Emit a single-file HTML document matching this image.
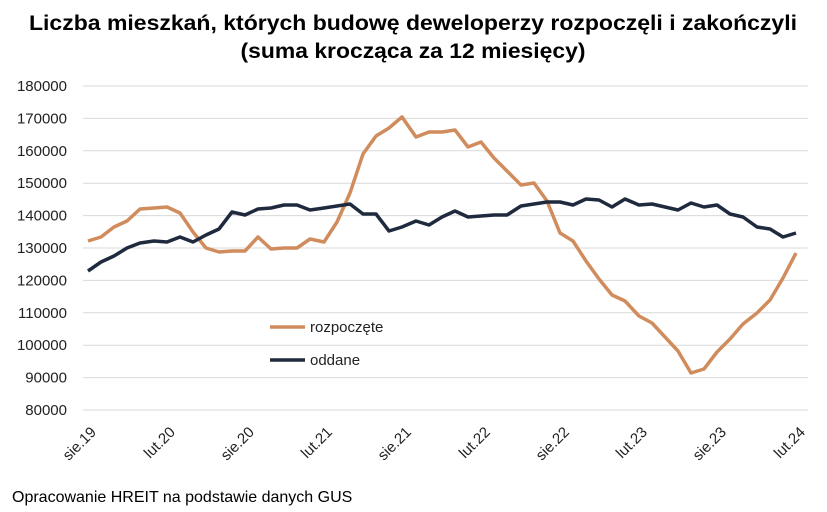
<!DOCTYPE html>
<html><head><meta charset="utf-8"><style>
html,body{margin:0;padding:0;background:#fff;}
svg{display:block;font-family:"Liberation Sans",sans-serif;}
</style></head><body>
<svg width="827" height="512" viewBox="0 0 827 512" xmlns="http://www.w3.org/2000/svg">
<text x="413" y="30" text-anchor="middle" font-size="21" font-weight="bold" fill="#000" textLength="768" lengthAdjust="spacingAndGlyphs">Liczba mieszkań, których budowę deweloperzy rozpoczęli i zakończyli</text>
<text x="413" y="58" text-anchor="middle" font-size="21" font-weight="bold" fill="#000" textLength="345" lengthAdjust="spacingAndGlyphs">(suma krocząca za 12 miesięcy)</text>
<g stroke="#d9d9d9" stroke-width="1">
<line x1="83" x2="808" y1="86" y2="86"/><line x1="83" x2="808" y1="118.4" y2="118.4"/><line x1="83" x2="808" y1="150.8" y2="150.8"/><line x1="83" x2="808" y1="183.2" y2="183.2"/><line x1="83" x2="808" y1="215.6" y2="215.6"/><line x1="83" x2="808" y1="248" y2="248"/><line x1="83" x2="808" y1="280.4" y2="280.4"/><line x1="83" x2="808" y1="312.8" y2="312.8"/><line x1="83" x2="808" y1="345.2" y2="345.2"/><line x1="83" x2="808" y1="377.6" y2="377.6"/><line x1="83" x2="808" y1="410" y2="410"/>
</g>
<g font-size="15" fill="#222" text-anchor="end">
<text x="67" y="91">180000</text><text x="67" y="123.4">170000</text><text x="67" y="155.8">160000</text><text x="67" y="188.2">150000</text><text x="67" y="220.6">140000</text><text x="67" y="253">130000</text><text x="67" y="285.4">120000</text><text x="67" y="317.8">110000</text><text x="67" y="350.2">100000</text><text x="67" y="382.6">90000</text><text x="67" y="415">80000</text>
</g>
<g font-size="15" fill="#222" text-anchor="end">
<text transform="translate(97,433) rotate(-45)">sie.19</text>
<text transform="translate(176,433) rotate(-45)">lut.20</text>
<text transform="translate(255,433) rotate(-45)">sie.20</text>
<text transform="translate(333,433) rotate(-45)">lut.21</text>
<text transform="translate(412,433) rotate(-45)">sie.21</text>
<text transform="translate(491,433) rotate(-45)">lut.22</text>
<text transform="translate(570,433) rotate(-45)">sie.22</text>
<text transform="translate(648,433) rotate(-45)">lut.23</text>
<text transform="translate(727,433) rotate(-45)">sie.23</text>
<text transform="translate(806,433) rotate(-45)">lut.24</text>
</g>
<polyline fill="none" stroke="#d08c5c" stroke-width="3.5" stroke-linejoin="round" points="88,241 101,237 114,227 127,221 140,209 154,208 167,207 180,213 193,232 206,248 219,252 232,251 245,251 258,237 271,249 284,248 297,248 310,239 324,242 337,222 350,193 363,154 376,136 389,128 402,117 416,137 429,132 442,132 455,130 468,147 481,142 494,158 507,171 521,185 534,183 547,201 560,233 573,241 586,261 599,279 612,295 625,301 639,316 652,323 665,337 678,351 691,373 704,369 717,352 730,339 743,324 757,313 770,300 783,278 796,253"/>
<polyline fill="none" stroke="#1f2a3f" stroke-width="3.5" stroke-linejoin="round" points="88,271 101,262 114,256 127,248 140,243 154,241 167,242 180,237 193,242 206,235 219,229 232,212 245,215 258,209 271,208 284,205 297,205 310,210 324,208 337,206 350,204 363,214 376,214 389,231 402,227 416,221 429,225 442,217 455,211 468,217 481,216 494,215 507,215 521,206 534,204 547,202 560,202 573,205 586,199 599,200 612,207 625,199 639,205 652,204 665,207 678,210 691,203 704,207 717,205 730,214 743,217 757,227 770,229 783,237 796,233"/>
<line x1="270" x2="305" y1="327" y2="327" stroke="#d08c5c" stroke-width="3.5"/>
<text x="310" y="332" font-size="15" fill="#222">rozpoczęte</text>
<line x1="270" x2="305" y1="360" y2="360" stroke="#1f2a3f" stroke-width="3.5"/>
<text x="310" y="365" font-size="15" fill="#222">oddane</text>
<text x="12" y="502" font-size="16" fill="#000">Opracowanie HREIT na podstawie danych GUS</text>
</svg>
</body></html>
